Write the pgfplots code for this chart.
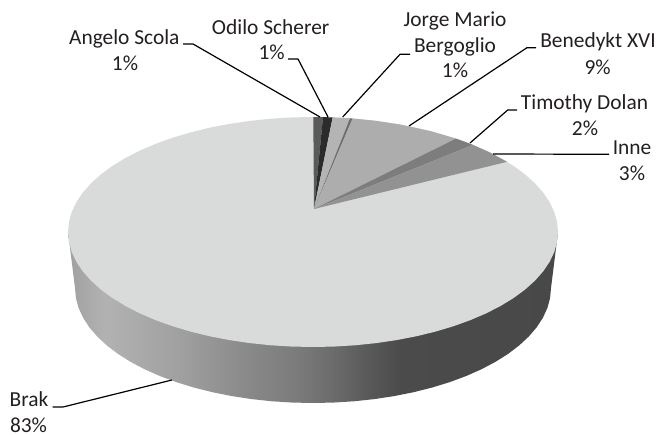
\documentclass[border=0pt]{standalone}
\usepackage{fontspec}
\setmainfont{Carlito}
\usepackage{pgfplots}
\pgfplotsset{compat=1.18}
\definecolor{sa}{HTML}{A0A0A0}
\definecolor{sb}{HTML}{B2B2B2}
\definecolor{sc}{HTML}{A0A0A0}
\definecolor{sd}{HTML}{888888}
\definecolor{se}{HTML}{7A7A7A}
\definecolor{sf}{HTML}{686868}
\definecolor{sg}{HTML}{585858}
\definecolor{sh}{HTML}{4B4B4B}
\definecolor{si}{HTML}{484848}
\pgfdeclarehorizontalshading{sidegrad}{100bp}{
 color(0bp)=(sa); color(25bp)=(sa); color(28.8bp)=(sb); color(36.4bp)=(sc);
 color(43.6bp)=(sd); color(48.7bp)=(se); color(52.8bp)=(sf); color(55.8bp)=(sg);
 color(58.9bp)=(sh); color(75bp)=(si); color(100bp)=(si)}
\definecolor{cbrak}{HTML}{D9DADA}
\definecolor{cang}{HTML}{5A5A5A}
\definecolor{codi}{HTML}{2B2B2B}
\definecolor{cber}{HTML}{B4B4B4}
\definecolor{cthin}{HTML}{6F6F6F}
\definecolor{cben}{HTML}{ADADAD}
\definecolor{ctim}{HTML}{7D7D7D}
\definecolor{cinn}{HTML}{929292}
\definecolor{ctxt}{HTML}{231F20}
\begin{document}
\begin{tikzpicture}[x=1bp,y=1bp,
  lead/.style={draw=black,line width=1.2bp,no marks},
  lb/.style={anchor=base,inner sep=0pt,font=\fontsize{21.4bp}{25bp}\selectfont,text=ctxt}]
\useasboundingbox (0,0) rectangle (656,435);
\begin{axis}[at={(0,0)},anchor=south west,scale only axis,width=656bp,height=435bp,
  xmin=0,xmax=656,ymin=0,ymax=435,y dir=reverse,hide axis,clip=false,
  every axis plot/.append style={line join=round}]
% side wall
\addplot[draw=none,shade,shading=sidegrad,no marks] coordinates {
(68,232)(75,288)(75.91,298.02)(78.62,307.97)(83.11,317.76)(89.35,327.33)(97.30,336.6)(106.89,345.5)(118.04,353.96)(130.68,361.92)(144.71,369.32)(160.02,376.09)(176.49,382.2)(194,387.59)(212.42,392.23)(231.6,396.06)(251.4,399.08)(271.67,401.25)(292.26,402.56)(313,403)(333.74,402.56)(354.33,401.25)(374.6,399.08)(394.4,396.06)(413.58,392.23)(432,387.59)(449.51,382.2)(465.98,376.09)(481.29,369.32)(495.32,361.92)(507.96,353.96)(519.11,345.5)(528.70,336.6)(536.65,327.33)(542.89,317.76)(547.38,307.97)(550.09,298.02)(551,288)(558,232)};
% Brak: top face
\addplot[draw=none,fill=cbrak,no marks] coordinates {
(558,232)(557.07,221.98)(554.28,212.03)(549.65,202.24)(543.22,192.67)(535.05,183.4)(525.18,174.5)(513.69,166.04)(500.68,158.08)(486.24,150.68)(470.48,143.91)(453.53,137.8)(435.5,132.41)(416.54,127.77)(396.79,123.94)(376.41,120.92)(355.54,118.75)(334.35,117.44)(313,117)
(291.65,117.44)(270.46,118.75)(249.59,120.92)(229.21,123.94)(209.46,127.77)(190.5,132.41)(172.47,137.8)(155.52,143.91)(139.76,150.68)(125.32,158.08)(112.31,166.04)(100.82,174.5)(90.95,183.4)(82.78,192.67)(76.35,202.24)(71.72,212.03)(68.93,221.98)(68,232)
(68.93,242.02)(71.72,252.03)(76.35,261.76)(82.78,271.33)(90.95,280.6)(100.82,289.5)(112.31,297.96)(125.32,305.92)(139.76,313.32)(155.52,320.09)(172.47,326.2)(190.5,331.59)(209.46,336.23)(229.21,340.06)(249.59,343.08)(270.46,345.25)(291.65,346.56)(313,347)
(334.35,346.56)(355.54,345.25)(376.41,343.08)(396.79,340.06)(416.54,336.23)(435.5,331.59)(453.53,326.2)(470.48,320.09)(486.24,313.32)(500.68,305.92)(513.69,297.96)(525.18,289.5)(535.05,280.6)(543.22,271.33)(549.65,261.76)(554.28,252.03)(557.07,242.02)};
% wedges
\addplot[draw=none,fill=cang,no marks] coordinates {(314,209)(313.3,117)(323,117.1)};
\addplot[draw=none,fill=codi,no marks] coordinates {(314,209)(323,117.1)(332.7,117.4)};
\addplot[draw=none,fill=cber,no marks] coordinates {(314,209)(332.7,117.4)(341,117.75)(350,118.3)};
\addplot[draw=none,fill=cthin,no marks] coordinates {(314,209)(350,118.3)(352.7,118.5)};
\addplot[draw=none,fill=cben,no marks] coordinates {(314,209)(352.7,118.5)(375,120.7)(400,124.5)(430,131)(456,138.6)};
\addplot[draw=none,fill=ctim,no marks] coordinates {(314,209)(456,138.6)(465,141.8)(473,144.9)};
\addplot[draw=none,fill=cinn,no marks] coordinates {(314,209)(473,144.9)(490,152.5)(507,161.8)};
% leader lines
\addplot[lead] coordinates {(183,44)(193,44)(320,117)};
\addplot[lead] coordinates {(288,59)(298,59)(328,117)};
\addplot[lead] coordinates {(410,54.3)(400,54.3)(342.7,117)};
\addplot[lead] coordinates {(536,47.7)(527,47.7)(409,126)};
\addplot[lead] coordinates {(517,110)(507.7,110)(470,143)};
\addplot[lead] coordinates {(609,154.3)(493,154)};
\addplot[lead] coordinates {(52.7,407)(63,407)(172,380)};
% labels
\node[lb] at (axis cs:124.3,45) {Angelo Scola};
\node[lb] at (axis cs:125,70.7) {1\%};
\node[lb] at (axis cs:270.7,34.3) {Odilo Scherer};
\node[lb] at (axis cs:271.7,60) {1\%};
\node[lb] at (axis cs:455,27) {Jorge Mario};
\node[lb] at (axis cs:455,52.5) {Bergoglio};
\node[lb] at (axis cs:455,77.5) {1\%};
\node[lb] at (axis cs:598,47.7) {Benedykt XVI};
\node[lb] at (axis cs:597.7,75) {9\%};
\node[lb] at (axis cs:584.5,110) {Timothy Dolan};
\node[lb] at (axis cs:585,136) {2\%};
\node[lb] at (axis cs:632,155) {Inne};
\node[lb] at (axis cs:632,180.7) {3\%};
\node[lb] at (axis cs:29,406.7) {Brak};
\node[lb] at (axis cs:28.5,432.5) {83\%};
\end{axis}
\end{tikzpicture}
\end{document}
